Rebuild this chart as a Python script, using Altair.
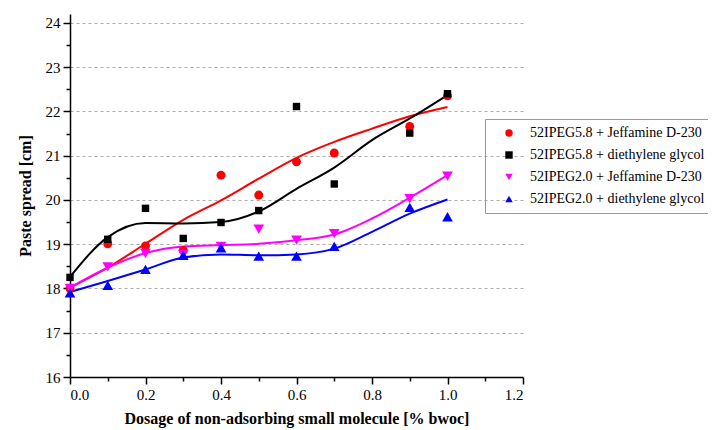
import altair as alt
import pandas as pd

dosage = [0.0, 0.1, 0.2, 0.3, 0.4, 0.5, 0.6, 0.7, 0.9, 1.0]
series_names = [
    "52IPEG5.8 + Jeffamine D-230",
    "52IPEG5.8 + diethylene glycol",
    "52IPEG2.0 + Jeffamine D-230",
    "52IPEG2.0 + diethylene glycol",
]
# measured points
peg58_jeff = [18.0, 19.01, 18.96, 18.86, 20.56, 20.11, 20.86, 21.06, 21.66, 22.35]
peg58_deg = [18.25, 19.11, 19.81, 19.13, 19.49, 19.76, 22.11, 20.36, 21.51, 22.40]
peg20_jeff = [18.0, 18.49, 18.79, 18.77, 18.95, 19.34, 19.09, 19.24, 20.03, 20.54]
peg20_deg = [17.9, 18.07, 18.43, 18.75, 18.92, 18.73, 18.73, 18.95, 19.83, 19.62]

# fitted curves
fit_dosage = [0.0, 0.1, 0.2, 0.3, 0.4, 0.5, 0.6, 0.7, 0.8, 0.9, 1.0]
fit_peg58_jeff = [18.02, 18.47, 19.01, 19.55, 19.99, 20.48, 20.95, 21.31, 21.61, 21.89, 22.10]
fit_peg58_deg = [18.26, 19.16, 19.48, 19.47, 19.50, 19.74, 20.25, 20.73, 21.35, 21.84, 22.37]
fit_peg20_jeff = [18.02, 18.47, 18.80, 18.95, 18.98, 19.01, 19.09, 19.22, 19.58, 20.05, 20.56]
fit_peg20_deg = [17.92, 18.17, 18.43, 18.70, 18.77, 18.75, 18.77, 18.90, 19.28, 19.69, 20.01]

colors = ["#ff0000", "#000000", "#ff00ff", "#0000ff"]
shapes = ["circle", "square", "triangle-down", "triangle-up"]

rows = []
for name, vals in zip(series_names, [peg58_jeff, peg58_deg, peg20_jeff, peg20_deg]):
    for x, y in zip(dosage, vals):
        rows.append({"series": name, "dosage": x, "spread": y})
df = pd.DataFrame(rows)

fit_rows = []
for name, vals in zip(series_names, [fit_peg58_jeff, fit_peg58_deg, fit_peg20_jeff, fit_peg20_deg]):
    for x, y in zip(fit_dosage, vals):
        fit_rows.append({"curve": name, "dosage": x, "spread": y})
fit_df = pd.DataFrame(fit_rows)

FONT = "Liberation Serif"

x_enc = alt.X(
    "dosage:Q",
    scale=alt.Scale(domain=[0, 1.2], nice=False, zero=False),
    axis=alt.Axis(
        title="Dosage of non-adsorbing small molecule [% bwoc]",
        values=[round(i * 0.1, 1) for i in range(13)],
        labelExpr="round(datum.value*10) % 2 == 0 ? format(datum.value, '.1f') : ''",
        tickSize={"condition": {"test": "round(datum.value*10) % 2 != 0", "value": 4}, "value": 7},
        grid=False,
    ),
)
y_enc = alt.Y(
    "spread:Q",
    scale=alt.Scale(domain=[16, 24.2], nice=False, zero=False),
    axis=alt.Axis(
        title="Paste spread [cm]",
        values=[16 + i * 0.5 for i in range(17)],
        labelExpr="datum.value % 1 == 0 ? format(datum.value, 'd') : ''",
        tickSize={"condition": {"test": "datum.value % 1 != 0", "value": 4}, "value": 7},
        grid=True,
        gridOpacity={"condition": {"test": "datum.value % 1 != 0 || datum.value == 16", "value": 0}, "value": 1},
    ),
)

line_layers = []
for name, col in zip(series_names, colors):
    line_layers.append(
        alt.Chart(fit_df)
        .transform_filter(alt.datum.curve == name)
        .mark_line(strokeWidth=2, interpolate="monotone")
        .encode(x=x_enc, y=y_enc, color=alt.value(col))
    )

legend = alt.Legend(
    title=None,
    orient="none",
    legendX=415,
    legendY=105,
    strokeColor="#999999",
    padding=7,
    rowPadding=8,
    symbolOffset=10,
    labelFontSize=14,
    labelFont=FONT,
    labelColor="#000000",
    labelLimit=400,
    symbolSize=55,
    labelOffset=14,
)

points = alt.Chart(df).mark_point(filled=True, opacity=1).encode(
    x=x_enc,
    y=y_enc,
    color=alt.Color("series:N", scale=alt.Scale(domain=series_names, range=colors), legend=legend),
    shape=alt.Shape("series:N", scale=alt.Scale(domain=series_names, range=shapes), legend=legend),
    size={
        "condition": [
            {"test": "indexof(datum.series, '2.0') >= 0", "value": 115},
            {"test": "indexof(datum.series, 'glycol') >= 0", "value": 55},
        ],
        "value": 80,
    },
)

chart = alt.layer(*line_layers, points).properties(
    width=453,
    height=363,
    padding={"left": 62, "top": 6, "right": 185, "bottom": 53},
    autosize=alt.AutoSizeParams(type="none"),
).configure_view(stroke=None).configure_axis(
    domainColor="#000000",
    domainWidth=1.5,
    tickColor="#000000",
    tickWidth=1.5,
    labelFont=FONT,
    labelFontSize=15,
    labelColor="#000000",
    titleFont=FONT,
    titleFontSize=16,
    titleFontWeight="bold",
    titleColor="#000000",
    gridColor="#aaaaaa",
    gridDash=[3, 3],
    gridWidth=1,
).configure_axisX(
    labelPadding=3,
    titlePadding=8,
).configure_axisY(
    labelPadding=3,
    titlePadding=12,
)

chart.save("out.html", embed_options={"renderer": "svg", "actions": False})
